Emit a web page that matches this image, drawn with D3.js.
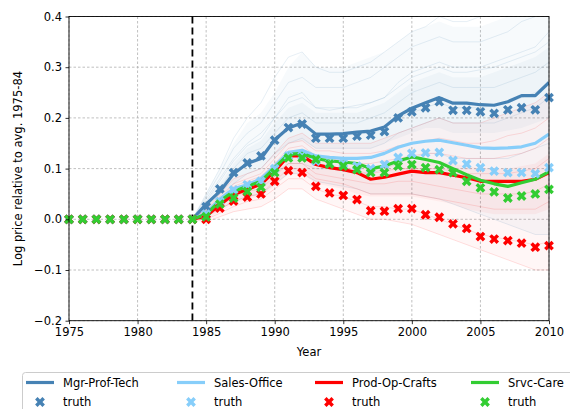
<!doctype html>
<html>
<head>
<meta charset="UTF-8">
<title>Log price</title>
<script src="https://cdn.jsdelivr.net/npm/d3@7"></script>
<style>
  body { margin: 0; background: #fff; }
  text { font-family: "DejaVu Sans", sans-serif; }
</style>
</head>
<body>
<script>
// years
var preYears = d3.range(1975, 1985);
var years = d3.range(1984, 2011);

// model lines (1984-2010)
var mgr = [0, 0.03, 0.055, 0.09, 0.11, 0.12, 0.157, 0.18, 0.19, 0.168, 0.168, 0.169, 0.172, 0.174, 0.182, 0.204, 0.219, 0.23, 0.24, 0.229, 0.229, 0.226, 0.225, 0.232, 0.244, 0.244, 0.27];
var sales = [0, 0.012, 0.04, 0.06, 0.068, 0.08, 0.105, 0.132, 0.136, 0.125, 0.122, 0.12, 0.12, 0.122, 0.13, 0.142, 0.15, 0.154, 0.156, 0.151, 0.146, 0.141, 0.14, 0.141, 0.143, 0.15, 0.168];
var prod = [0, 0.006, 0.029, 0.049, 0.059, 0.069, 0.095, 0.125, 0.125, 0.108, 0.102, 0.098, 0.092, 0.079, 0.083, 0.089, 0.095, 0.092, 0.092, 0.087, 0.082, 0.075, 0.075, 0.075, 0.075, 0.079, 0.092];
var srvc = [0, 0.01, 0.036, 0.055, 0.065, 0.075, 0.102, 0.128, 0.13, 0.12, 0.115, 0.113, 0.11, 0.1, 0.105, 0.115, 0.123, 0.118, 0.112, 0.1, 0.088, 0.077, 0.07, 0.065, 0.072, 0.079, 0.094];

// truth (1985-2010); 1975-1984 are all zero
var truthYears = d3.range(1985, 2011);
var mgrTruth = [0.025, 0.06, 0.092, 0.111, 0.125, 0.156, 0.181, 0.188, 0.16, 0.16, 0.16, 0.164, 0.166, 0.173, 0.2, 0.212, 0.22, 0.232, 0.215, 0.215, 0.212, 0.209, 0.216, 0.22, 0.216, 0.24];
var salesTruth = [0.01, 0.035, 0.058, 0.068, 0.075, 0.1, 0.125, 0.125, 0.115, 0.11, 0.11, 0.105, 0.1, 0.108, 0.122, 0.13, 0.131, 0.132, 0.116, 0.109, 0.102, 0.095, 0.092, 0.092, 0.09, 0.102];
var prodTruth = [0.0, 0.022, 0.036, 0.044, 0.05, 0.075, 0.096, 0.092, 0.065, 0.052, 0.047, 0.039, 0.017, 0.016, 0.021, 0.021, 0.009, 0.004, -0.009, -0.018, -0.034, -0.039, -0.042, -0.047, -0.055, -0.052];
var srvcTruth = [0.005, 0.03, 0.042, 0.055, 0.063, 0.092, 0.121, 0.121, 0.118, 0.109, 0.105, 0.098, 0.092, 0.092, 0.105, 0.108, 0.102, 0.098, 0.092, 0.075, 0.062, 0.054, 0.042, 0.046, 0.05, 0.059];

// simulation spread (1984-2010)
var blueLo = [0, 0.008, 0.02, 0.035, 0.045, 0.05, 0.07, 0.09, 0.09, 0.075, 0.07, 0.065, 0.06, 0.05, 0.05, 0.05, 0.05, 0.045, 0.04, 0.03, 0.02, 0.01, 0.0, -0.01, -0.02, -0.03, -0.03];
var blueHi = [0, 0.05, 0.1, 0.15, 0.19, 0.21, 0.25, 0.3, 0.33, 0.3, 0.3, 0.3, 0.31, 0.32, 0.33, 0.35, 0.37, 0.38, 0.39, 0.38, 0.38, 0.38, 0.39, 0.4, 0.42, 0.43, 0.45];
var blueQ1 = [0, 0.02, 0.045, 0.07, 0.09, 0.1, 0.125, 0.15, 0.155, 0.14, 0.14, 0.14, 0.14, 0.14, 0.15, 0.16, 0.17, 0.18, 0.18, 0.17, 0.17, 0.17, 0.17, 0.175, 0.18, 0.19, 0.2];
var blueQ3 = [0, 0.035, 0.07, 0.11, 0.14, 0.155, 0.19, 0.22, 0.23, 0.21, 0.21, 0.21, 0.21, 0.22, 0.23, 0.25, 0.27, 0.28, 0.29, 0.28, 0.28, 0.28, 0.29, 0.3, 0.31, 0.32, 0.34];
var redLo = [0, -0.005, 0.005, 0.015, 0.02, 0.025, 0.04, 0.06, 0.06, 0.04, 0.03, 0.02, 0.01, 0.0, 0.0, -0.005, -0.01, -0.02, -0.03, -0.04, -0.05, -0.06, -0.07, -0.08, -0.09, -0.1, -0.1];
var redHi = [0, 0.02, 0.05, 0.08, 0.09, 0.1, 0.13, 0.16, 0.17, 0.15, 0.15, 0.15, 0.15, 0.15, 0.16, 0.17, 0.18, 0.19, 0.2, 0.19, 0.19, 0.19, 0.2, 0.21, 0.22, 0.23, 0.25];
var redQ1 = [0, 0.0, 0.015, 0.03, 0.04, 0.045, 0.065, 0.09, 0.09, 0.07, 0.065, 0.06, 0.05, 0.045, 0.045, 0.045, 0.045, 0.04, 0.035, 0.03, 0.02, 0.015, 0.01, 0.01, 0.01, 0.01, 0.02];
var redQ3 = [0, 0.012, 0.035, 0.06, 0.07, 0.08, 0.105, 0.13, 0.135, 0.12, 0.115, 0.11, 0.105, 0.1, 0.105, 0.11, 0.115, 0.115, 0.115, 0.11, 0.105, 0.1, 0.1, 0.1, 0.105, 0.11, 0.13];

// a few individual draws (1984-2010)
var blueDraws = [
  [0, 0.05, 0.1, 0.16, 0.2, 0.23, 0.28, 0.32, 0.33, 0.3, 0.29, 0.29, 0.3, 0.31, 0.33, 0.35, 0.37, 0.38, 0.4, 0.39, 0.39, 0.4, 0.41, 0.42, 0.44, 0.45, 0.48],
  [0, 0.04, 0.08, 0.12, 0.15, 0.17, 0.2, 0.24, 0.25, 0.22, 0.22, 0.22, 0.22, 0.23, 0.24, 0.27, 0.29, 0.3, 0.31, 0.3, 0.3, 0.3, 0.31, 0.32, 0.33, 0.34, 0.37],
  [0, 0.03, 0.06, 0.1, 0.13, 0.14, 0.17, 0.2, 0.21, 0.19, 0.19, 0.19, 0.19, 0.2, 0.21, 0.23, 0.25, 0.26, 0.27, 0.26, 0.26, 0.26, 0.26, 0.27, 0.28, 0.29, 0.31],
  [0, 0.02, 0.04, 0.07, 0.09, 0.1, 0.13, 0.15, 0.16, 0.14, 0.14, 0.14, 0.14, 0.14, 0.15, 0.17, 0.18, 0.19, 0.2, 0.19, 0.19, 0.19, 0.19, 0.2, 0.21, 0.22, 0.24],
  [0, 0.01, 0.03, 0.05, 0.06, 0.07, 0.09, 0.11, 0.11, 0.1, 0.1, 0.095, 0.09, 0.09, 0.1, 0.11, 0.12, 0.13, 0.13, 0.12, 0.12, 0.12, 0.12, 0.12, 0.13, 0.14, 0.15],
  [0, 0.045, 0.09, 0.14, 0.17, 0.19, 0.23, 0.27, 0.28, 0.26, 0.26, 0.26, 0.27, 0.28, 0.3, 0.32, 0.34, 0.35, 0.36, 0.35, 0.35, 0.35, 0.36, 0.37, 0.39, 0.4, 0.42],
  [0, 0.025, 0.05, 0.085, 0.11, 0.12, 0.15, 0.18, 0.19, 0.17, 0.165, 0.165, 0.17, 0.17, 0.18, 0.2, 0.21, 0.22, 0.23, 0.22, 0.22, 0.22, 0.225, 0.23, 0.24, 0.25, 0.27],
  [0, 0.035, 0.075, 0.115, 0.145, 0.16, 0.2, 0.23, 0.24, 0.22, 0.215, 0.22, 0.225, 0.23, 0.24, 0.26, 0.28, 0.29, 0.3, 0.29, 0.29, 0.295, 0.3, 0.31, 0.32, 0.33, 0.35],
  [0, 0.008, 0.02, 0.035, 0.045, 0.05, 0.07, 0.09, 0.09, 0.075, 0.07, 0.065, 0.06, 0.05, 0.05, 0.05, 0.05, 0.045, 0.04, 0.03, 0.02, 0.01, 0.0, -0.01, -0.02, -0.03, -0.03]
];
var redDraws = [
  [0, 0.02, 0.05, 0.08, 0.09, 0.1, 0.13, 0.16, 0.17, 0.15, 0.15, 0.15, 0.15, 0.15, 0.16, 0.17, 0.18, 0.19, 0.2, 0.19, 0.19, 0.19, 0.2, 0.21, 0.22, 0.23, 0.25],
  [0, 0.015, 0.04, 0.065, 0.075, 0.085, 0.11, 0.14, 0.145, 0.125, 0.12, 0.115, 0.11, 0.11, 0.115, 0.12, 0.125, 0.13, 0.13, 0.125, 0.12, 0.12, 0.12, 0.125, 0.13, 0.14, 0.16],
  [0, 0.008, 0.025, 0.045, 0.055, 0.06, 0.085, 0.11, 0.11, 0.09, 0.085, 0.08, 0.075, 0.07, 0.07, 0.075, 0.075, 0.07, 0.065, 0.06, 0.055, 0.05, 0.05, 0.05, 0.05, 0.055, 0.07],
  [0, 0.0, 0.012, 0.025, 0.035, 0.04, 0.06, 0.08, 0.08, 0.06, 0.05, 0.045, 0.035, 0.025, 0.025, 0.02, 0.02, 0.01, 0.0, -0.01, -0.02, -0.03, -0.035, -0.04, -0.045, -0.05, -0.045],
  [0, -0.005, 0.005, 0.015, 0.02, 0.025, 0.04, 0.06, 0.06, 0.04, 0.03, 0.02, 0.01, 0.0, 0.0, -0.005, -0.01, -0.02, -0.03, -0.04, -0.05, -0.06, -0.07, -0.08, -0.09, -0.1, -0.1],
  [0, 0.01, 0.03, 0.055, 0.065, 0.075, 0.1, 0.125, 0.13, 0.11, 0.105, 0.1, 0.095, 0.09, 0.095, 0.1, 0.1, 0.1, 0.1, 0.095, 0.09, 0.09, 0.09, 0.09, 0.095, 0.1, 0.12],
  [0, 0.005, 0.02, 0.035, 0.045, 0.05, 0.075, 0.1, 0.1, 0.08, 0.075, 0.07, 0.06, 0.05, 0.05, 0.05, 0.05, 0.045, 0.04, 0.035, 0.03, 0.025, 0.02, 0.02, 0.02, 0.02, 0.035],
  [0, 0.018, 0.045, 0.07, 0.08, 0.09, 0.12, 0.15, 0.155, 0.135, 0.135, 0.13, 0.13, 0.13, 0.135, 0.145, 0.15, 0.155, 0.16, 0.155, 0.15, 0.15, 0.155, 0.165, 0.17, 0.18, 0.2]
];

var xTicks = [1975, 1980, 1985, 1990, 1995, 2000, 2005, 2010];
var yTicks = [-0.2, -0.1, 0.0, 0.1, 0.2, 0.3, 0.4];

var groups = [
  { name: "Mgr-Prof-Tech", color: "#4682b4", line: mgr, truth: mgrTruth },
  { name: "Sales-Office", color: "#87cefa", line: sales, truth: salesTruth },
  { name: "Prod-Op-Crafts", color: "#ff0000", line: prod, truth: prodTruth },
  { name: "Srvc-Care", color: "#32cd32", line: srvc, truth: srvcTruth }
];

var w = 570, h = 409;
var pLeft = 69, pRight = 549, pTop = 16.5, pBottom = 320.7;

var svg = d3.select("body").append("svg").attr("width", w).attr("height", h);

var x = d3.scaleLinear().domain([1975, 2010]).range([pLeft, pRight]);
var y = d3.scaleLinear().domain([-0.2, 0.4]).range([pBottom, pTop]);

svg.append("clipPath").attr("id", "clip")
  .append("rect").attr("x", pLeft).attr("y", pTop).attr("width", pRight - pLeft).attr("height", pBottom - pTop);

// grid
var grid = svg.append("g").attr("stroke", "#b0b0b0").attr("stroke-width", 0.8).attr("stroke-dasharray", "2.5,2");
grid.selectAll("line.gx").data(xTicks).enter().append("line")
  .attr("x1", function (d) { return x(d); }).attr("x2", function (d) { return x(d); })
  .attr("y1", pTop).attr("y2", pBottom);
grid.selectAll("line.gy").data(yTicks).enter().append("line")
  .attr("y1", function (d) { return y(d); }).attr("y2", function (d) { return y(d); })
  .attr("x1", pLeft).attr("x2", pRight);

var plot = svg.append("g").attr("clip-path", "url(#clip)");

function band(lo, hi) {
  return d3.area()
    .x(function (d, i) { return x(years[i]); })
    .y0(function (d, i) { return y(lo[i]); })
    .y1(function (d, i) { return y(hi[i]); })(years);
}
var line = d3.line().x(function (d, i) { return x(years[i]); }).y(function (d) { return y(d); });

// blue haze
plot.append("path").attr("d", band(blueLo, blueHi)).attr("fill", "#4682b4").attr("opacity", 0.045);
plot.append("path").attr("d", band(blueQ1, blueQ3)).attr("fill", "#4682b4").attr("opacity", 0.05);
plot.selectAll("path.bd").data(blueDraws).enter().append("path")
  .attr("d", line).attr("fill", "none").attr("stroke", "#4682b4").attr("stroke-width", 1).attr("opacity", 0.13);
// red haze
plot.append("path").attr("d", band(redLo, redHi)).attr("fill", "#ff0000").attr("opacity", 0.035);
plot.append("path").attr("d", band(redQ1, redQ3)).attr("fill", "#ff0000").attr("opacity", 0.045);
plot.selectAll("path.rd").data(redDraws).enter().append("path")
  .attr("d", line).attr("fill", "none").attr("stroke", "#ff0000").attr("stroke-width", 1).attr("opacity", 0.12);

// dashed 1984 line
svg.append("line").attr("x1", x(1984)).attr("x2", x(1984)).attr("y1", pTop).attr("y2", pBottom)
  .attr("stroke", "#000").attr("stroke-width", 1.8).attr("stroke-dasharray", "7,4");

var xMark = d3.symbol().type(d3.symbolCross).size(60);

groups.forEach(function (g) {
  plot.append("path").attr("d", line(g.line)).attr("fill", "none")
    .attr("stroke", g.color).attr("stroke-width", 3.2).attr("stroke-linejoin", "round");
  var pts = preYears.map(function (yr) { return [yr, 0]; })
    .concat(truthYears.map(function (yr, i) { return [yr, g.truth[i]]; }));
  svg.append("g").selectAll("path").data(pts).enter().append("path")
    .attr("d", xMark)
    .attr("transform", function (d) { return "translate(" + x(d[0]) + "," + y(d[1]) + ") rotate(45)"; })
    .attr("fill", g.color);
});

// frame
svg.append("rect").attr("x", pLeft).attr("y", pTop).attr("width", pRight - pLeft).attr("height", pBottom - pTop)
  .attr("fill", "none").attr("stroke", "#000").attr("stroke-width", 0.9);

// axes
var xAxis = svg.append("g").attr("transform", "translate(0," + pBottom + ")")
  .call(d3.axisBottom(x).tickValues(xTicks).tickFormat(d3.format("d")).tickSize(3.5).tickPadding(3.5));
var yAxis = svg.append("g").attr("transform", "translate(" + pLeft + ",0)")
  .call(d3.axisLeft(y).tickValues(yTicks).tickFormat(function (d) { return d3.format(".1f")(d).replace("-", "\u2212"); }).tickSize(3.5).tickPadding(3.5));
[xAxis, yAxis].forEach(function (a) {
  a.select(".domain").remove();
  a.selectAll("text").attr("font-family", "DejaVu Sans").attr("font-size", 11.5).attr("fill", "#000");
  a.selectAll("line").attr("stroke", "#000").attr("stroke-width", 0.8);
});

svg.append("text").attr("x", (pLeft + pRight) / 2).attr("y", 356).attr("text-anchor", "middle")
  .attr("font-size", 11.5).text("Year");
svg.append("text").attr("transform", "translate(22," + (pTop + pBottom) / 2 + ") rotate(-90)")
  .attr("text-anchor", "middle").attr("font-size", 11.5).text("Log price relative to avg. 1975-84");

// legend
var leg = svg.append("g");
leg.append("rect").attr("x", 22.5).attr("y", 372.5).attr("width", 600).attr("height", 60).attr("rx", 3)
  .attr("fill", "#fff").attr("stroke", "#cccccc").attr("stroke-width", 1);
var colX = [26, 177, 315, 471];
groups.forEach(function (g, i) {
  var cx = colX[i];
  leg.append("line").attr("x1", cx).attr("x2", cx + 28).attr("y1", 382.5).attr("y2", 382.5)
    .attr("stroke", g.color).attr("stroke-width", 3.2);
  leg.append("text").attr("x", cx + 37).attr("y", 386.5).attr("font-size", 11.5).text(g.name);
  leg.append("path").attr("d", xMark).attr("transform", "translate(" + (cx + 14) + ",402) rotate(45)").attr("fill", g.color);
  leg.append("text").attr("x", cx + 37).attr("y", 406).attr("font-size", 11.5).text("truth");
});
</script>
</body>
</html>
